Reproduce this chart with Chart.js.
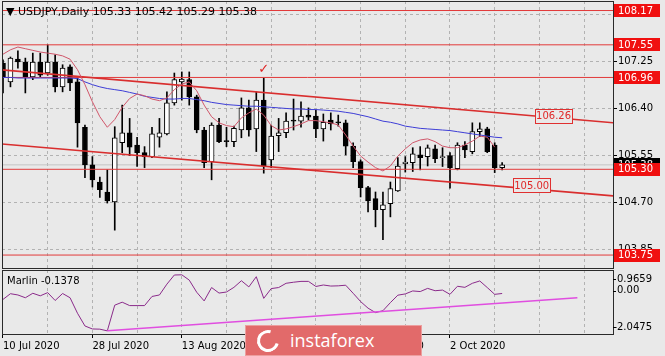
<!DOCTYPE html>
<html>
<head>
<meta charset="utf-8">
<script src="https://cdn.jsdelivr.net/npm/chart.js@4.4.1/dist/chart.umd.min.js"></script>
<style>
html,body{margin:0;padding:0;background:#e9e9e9;}
#wrap{position:relative;width:665px;height:356px;overflow:hidden;background:#e9e9e9;font-family:'DejaVu Sans',sans-serif;}
#c1{position:absolute;left:0;top:0;}
#c2{position:absolute;left:0;top:269px;}
#title{position:absolute;left:6px;top:5px;font-size:11px;line-height:13px;white-space:pre;color:#000;}
#mlabel{position:absolute;left:7px;top:275px;font-size:10px;line-height:12px;white-space:pre;color:#000;}
#logo{position:absolute;left:245px;top:325px;width:177px;height:31px;background:#e26a6a;border:1px solid rgba(255,255,255,0.35);box-sizing:border-box;}
#ring{position:absolute;left:11px;top:4px;width:16px;height:16px;border:3px solid #fff;border-radius:50%;border-right-color:transparent;transform:rotate(-30deg);}
#logo span{position:absolute;left:44px;top:2px;font-family:'Open Sans',sans-serif;font-size:18px;line-height:24px;color:#fff;}
</style>
</head>
<body>
<div id="wrap">
<canvas id="c1" width="665" height="269"></canvas>
<canvas id="c2" width="665" height="87"></canvas>
<div id="title">▼ USDJPY,Daily 105.33 105.42 105.29 105.38</div>
<div id="mlabel">Marlin -0.1378</div>
<div id="logo"><div id="ring"></div><span>instaforex</span></div>
</div>
<script>
// ---------- DATA ----------
const dates = ["10 Jul 2020","13 Jul 2020","14 Jul 2020","15 Jul 2020","16 Jul 2020","17 Jul 2020","20 Jul 2020","21 Jul 2020","22 Jul 2020","23 Jul 2020",
"24 Jul 2020","27 Jul 2020","28 Jul 2020","29 Jul 2020","30 Jul 2020","31 Jul 2020","3 Aug 2020","4 Aug 2020","5 Aug 2020","6 Aug 2020",
"7 Aug 2020","10 Aug 2020","11 Aug 2020","12 Aug 2020","13 Aug 2020","14 Aug 2020","17 Aug 2020","18 Aug 2020","19 Aug 2020","20 Aug 2020",
"21 Aug 2020","24 Aug 2020","25 Aug 2020","26 Aug 2020","27 Aug 2020","28 Aug 2020","31 Aug 2020","1 Sep 2020","2 Sep 2020","3 Sep 2020",
"4 Sep 2020","7 Sep 2020","8 Sep 2020","9 Sep 2020","10 Sep 2020","11 Sep 2020","14 Sep 2020","15 Sep 2020","16 Sep 2020","17 Sep 2020",
"18 Sep 2020","21 Sep 2020","22 Sep 2020","23 Sep 2020","24 Sep 2020","25 Sep 2020","28 Sep 2020","29 Sep 2020","30 Sep 2020","1 Oct 2020",
"2 Oct 2020","5 Oct 2020","6 Oct 2020","7 Oct 2020","8 Oct 2020","9 Oct 2020","12 Oct 2020","13 Oct 2020"];

const opens = [107.22,106.88,107.29,107.24,106.97,107.24,107.04,107.24,106.79,107.15,
106.88,106.06,105.38,105.07,104.89,104.71,105.78,105.96,105.74,105.60,
105.53,105.88,105.94,106.50,106.88,106.92,106.61,106.01,105.44,106.10,
105.82,105.80,106.01,106.41,106.03,106.55,105.47,105.91,105.96,106.19,
106.17,106.28,106.26,106.03,106.19,106.15,106.14,105.72,105.44,104.97,
104.77,104.57,104.68,104.91,105.40,105.42,105.56,105.53,105.67,105.51,
105.55,105.31,105.74,105.62,105.98,106.03,105.74,105.33];
const highs = [107.28,107.33,107.44,107.31,107.40,107.40,107.55,107.37,107.19,107.19,
106.95,106.10,105.53,105.16,105.29,106.07,106.46,106.22,105.88,105.71,
106.06,106.22,106.70,107.04,107.06,107.06,106.64,106.06,106.14,106.22,
106.06,106.08,106.59,106.55,106.70,106.95,106.10,106.22,106.32,106.57,
106.52,106.41,106.37,106.30,106.32,106.28,106.19,105.78,105.47,104.99,
104.89,104.89,105.07,105.51,105.53,105.69,105.71,105.74,105.74,105.69,
105.60,105.78,105.80,106.14,106.14,106.06,105.78,105.42];
const lows = [106.68,106.79,107.13,106.68,106.92,106.97,107.00,106.70,106.70,106.72,
105.70,105.15,104.98,104.79,104.69,104.20,105.60,105.55,105.35,105.33,
105.51,105.70,105.92,106.46,106.55,106.46,105.96,105.33,105.11,105.78,
105.71,105.71,105.87,105.90,105.62,105.23,105.33,105.62,105.87,106.01,
106.06,106.19,105.87,105.81,106.01,106.08,105.56,105.33,104.80,104.53,
104.26,104.03,104.44,104.90,105.25,105.26,105.29,105.36,105.42,105.35,
104.96,105.29,105.51,105.58,105.89,105.60,105.24,105.29];
const closes = [106.97,107.31,107.24,106.97,107.24,107.00,107.24,106.79,107.13,106.86,
106.14,105.38,105.11,104.93,104.73,105.87,105.96,105.70,105.60,105.53,
105.94,105.96,106.50,106.92,106.93,106.61,106.01,105.42,106.10,105.80,
105.80,106.04,106.41,106.01,106.55,105.36,105.90,105.96,106.17,106.17,
106.26,106.24,106.03,106.15,106.12,106.14,105.72,105.44,104.97,104.73,
104.57,104.66,104.95,105.36,105.43,105.58,105.51,105.69,105.49,105.53,
105.33,105.74,105.65,105.98,106.03,105.62,105.33,105.38];

const maSlow = [106.96,106.96,106.95,106.95,106.95,106.95,106.95,106.95,106.95,106.95,
106.94,106.88,106.83,106.79,106.76,106.74,106.72,106.69,106.66,106.62,
106.60,106.58,106.57,106.57,106.58,106.58,106.56,106.54,106.51,106.49,
106.47,106.46,106.45,106.44,106.44,106.43,106.42,106.41,106.40,106.39,
106.39,106.38,106.38,106.37,106.36,106.35,106.33,106.31,106.28,106.25,
106.21,106.17,106.15,106.12,106.08,106.06,106.04,106.03,106.02,106.01,
106.00,105.98,105.96,105.94,105.92,105.90,105.88,105.87];
const maFast = [107.38,107.46,107.51,107.48,107.45,107.42,107.40,107.38,107.35,107.29,
107.10,106.83,106.52,106.25,106.06,106.20,106.42,106.58,106.66,106.63,
106.57,106.54,106.59,106.74,106.84,106.88,106.72,106.46,106.25,106.14,
106.09,106.07,106.23,106.32,106.39,106.28,106.09,106.01,106.03,106.07,
106.12,106.18,106.18,106.16,106.14,106.10,105.92,105.72,105.54,105.43,
105.33,105.27,105.36,105.54,105.67,105.78,105.83,105.85,105.80,105.72,
105.69,105.69,105.74,105.81,105.90,105.88,105.70,null];
const marlin = [-0.42,-0.15,-0.21,-0.34,-0.13,-0.25,-0.10,-0.47,-0.14,-0.34,
-1.07,-1.67,-1.81,-1.82,-1.90,-0.69,-0.55,-0.71,-0.71,-0.71,
-0.28,-0.21,0.30,0.73,0.74,0.49,-0.08,-0.49,0.14,-0.12,
-0.07,0.15,0.46,0.17,0.65,-0.37,0.09,0.14,0.34,0.39,
0.43,0.43,0.19,0.26,0.21,0.22,0.25,-0.13,-0.52,-0.83,
-1.04,-0.95,-0.57,-0.22,-0.16,-0.02,-0.05,0.10,-0.01,0.02,
-0.18,0.20,0.15,0.34,0.45,0.14,-0.18,-0.14];

const levels = [108.17, 107.55, 106.96, 105.30, 103.75];
const lastPrice = 105.38;
const priceTicks = [103.85, 104.70, 105.55, 106.40, 107.25, 108.10];
const upperTrend = [[-0.40, 107.10], [81.9, 106.14]];
const lowerTrend = [[-0.40, 105.76], [81.9, 104.82]];
const trendTags = [[73.9, 106.26], [70.96, 105.00]];
const checkMark = [35, 107.10];
const marlinTrend = [[14, -1.90], [77.1, -0.34]];
const marlinLevels = [0.9659, 0.00, -2.0475];
const xGridTicks = [0,6,12,18,24,30,36,42,48,54,60,66,72,78];
const xLabelTicks = [0,12,24,36,48,60];

// ---------- SCALE RANGES ----------
const X_MIN = -0.134, X_MAX = 81.88;
const Y_MIN = 103.516, Y_MAX = 108.342;
const M_MIN = -2.0475, M_MAX = 0.9659;

const FONT = 'DejaVu Sans';
const GRID = '#b2b2b2';
const LEVEL_RED = '#e23a3a';
const TREND_RED = '#d92e2e';

const idx = dates.map((_, i) => i);
const pts = arr => arr.map((v, i) => ({x: i, y: v}));
const seg = p => p.map(([x, y]) => ({x, y}));
const noPad = s => { s.paddingTop = 0; s.paddingBottom = 0; s.paddingLeft = 0; s.paddingRight = 0; };

const datasets1 = [];
datasets1.push({type:'line', data: seg([[X_MIN, lastPrice],[X_MAX, lastPrice]]), borderColor:'#c4c4c4', borderWidth:1, pointRadius:0, order:30});
datasets1.push({type:'bar', data: idx.map(i => ({x:i, y:[lows[i], highs[i]]})), backgroundColor:'#000', borderWidth:0, barThickness:1, grouped:false, order:21});
datasets1.push({type:'bar', data: idx.map(i => ({x:i, y:[opens[i], closes[i]]})),
  backgroundColor: idx.map(i => closes[i] >= opens[i] ? '#ffffff' : '#000000'),
  borderColor:'#000', borderWidth:1, borderSkipped:false, barThickness:5, minBarLength:1, grouped:false, order:20});
levels.forEach(L => datasets1.push({type:'line', data: seg([[X_MIN, L],[X_MAX, L]]), borderColor:LEVEL_RED, borderWidth:1, pointRadius:0, order:6}));
[upperTrend, lowerTrend].forEach(t => datasets1.push({type:'line', data: seg(t), borderColor:TREND_RED, borderWidth:1.6, pointRadius:0, order:5}));
datasets1.push({type:'line', data: pts(maSlow), borderColor:'#3d3dd6', borderWidth:1, pointRadius:0, tension:0, order:4});
datasets1.push({type:'line', data: pts(maFast), borderColor:'#d0566a', borderWidth:1, pointRadius:0, tension:0, spanGaps:false, order:3});

function box(ctx, x, yc, w, h, fill, stroke) {
  ctx.fillStyle = fill;
  ctx.fillRect(x, Math.round(yc - h/2), w, h);
  if (stroke) { ctx.strokeStyle = stroke; ctx.lineWidth = 1; ctx.strokeRect(x + 0.5, Math.round(yc - h/2) + 0.5, w - 1, h - 1); }
}

const panel1 = {
  id: 'panel1',
  afterDraw(chart) {
    const {ctx, chartArea: ca, scales} = chart;
    const xs = scales.x, ys = scales.y;
    ctx.save();
    ctx.strokeStyle = '#2a2a2a'; ctx.lineWidth = 1;
    ctx.strokeRect(ca.left + 0.5, ca.top + 0.5, ca.right - ca.left, ca.bottom - ca.top);
    ctx.font = '10px ' + FONT;
    ctx.textBaseline = 'middle';
    trendTags.forEach(([xi, v]) => {
      const cx = xs.getPixelForValue(xi), cy = ys.getPixelForValue(v);
      const txt = v.toFixed(2);
      const w = Math.ceil(ctx.measureText(txt).width) + 3;
      box(ctx, Math.round(cx - w/2), cy, w, 15, '#e9e9e9', '#e03030');
      ctx.fillStyle = '#e02828'; ctx.textAlign = 'center';
      ctx.fillText(txt, cx, cy + 0.5);
    });
    ctx.fillStyle = '#e02020'; ctx.textAlign = 'center';
    ctx.font = 'bold 13px ' + FONT;
    ctx.fillText('\u2713', xs.getPixelForValue(checkMark[0]), ys.getPixelForValue(checkMark[1]));
    ctx.font = '10px ' + FONT; ctx.textAlign = 'left';
    const bx = ca.right + 1, bw = 46;
    let cy = ys.getPixelForValue(lastPrice);
    box(ctx, bx, cy, bw, 13, '#000');
    ctx.fillStyle = '#fff'; ctx.fillText(lastPrice.toFixed(2), bx + 4, cy + 0.5);
    levels.forEach(L => {
      const y = ys.getPixelForValue(L);
      box(ctx, bx, y, bw, 13, '#f01010');
      ctx.fillStyle = '#fff'; ctx.fillText(L.toFixed(2), bx + 4, y + 0.5);
    });
    ctx.restore();
  }
};

new Chart(document.getElementById('c1'), {
  type: 'bar',
  data: {datasets: datasets1},
  options: {
    responsive:false, animation:false, devicePixelRatio:1,
    layout: {padding: {left:2, top:1, right:0, bottom:1}},
    plugins: {legend:{display:false}, tooltip:{enabled:false}},
    scales: {
      x: {type:'linear', min:X_MIN, max:X_MAX, offset:false,
          grid:{offset:false, color:GRID, lineWidth:1, drawTicks:false},
          border:{display:false, dash:[3,3]},
          ticks:{display:false},
          afterBuildTicks: s => { s.ticks = xGridTicks.map(v => ({value:v})); },
          afterFit: s => { s.height = 0; noPad(s); }},
      y: {type:'linear', position:'right', min:Y_MIN, max:Y_MAX,
          grid:{color:GRID, lineWidth:1, drawTicks:true, tickLength:4, tickColor:'#000', tickWidth:1, tickBorderDash:[]},
          border:{display:false, dash:[3,3]},
          ticks:{color:'#000', font:{family:FONT, size:10}, padding:1, autoSkip:false, callback: v => Number(v).toFixed(2)},
          afterBuildTicks: s => { s.ticks = priceTicks.map(v => ({value:v})); },
          afterFit: s => { s.width = 52; noPad(s); }}
    }
  },
  plugins: [panel1]
});

const panel2 = {
  id: 'panel2',
  afterDraw(chart) {
    const {ctx, chartArea: ca, scales} = chart;
    const ys = scales.y;
    ctx.save();
    ctx.strokeStyle = '#2a2a2a'; ctx.lineWidth = 1;
    ctx.strokeRect(ca.left + 0.5, ca.top + 0.5, ca.right - ca.left, ca.bottom - ca.top);
    ctx.font = '10px ' + FONT; ctx.textBaseline = 'middle'; ctx.textAlign = 'left';
    ctx.fillStyle = '#000'; ctx.strokeStyle = '#000';
    marlinLevels.forEach(v => {
      let y = ys.getPixelForValue(v);
      y = Math.min(Math.max(y, ca.top + 9), ca.bottom - 7);
      ctx.beginPath(); ctx.moveTo(ca.right, Math.round(y) + 0.5); ctx.lineTo(ca.right + 3, Math.round(y) + 0.5); ctx.stroke();
      const t = v === 0 ? '0.00' : String(v);
      const off = v < 0 ? ctx.measureText('-').width : 0;
      ctx.fillText(t, ca.right + 3 - off + 1, y);
    });
    ctx.restore();
  }
};

new Chart(document.getElementById('c2'), {
  type: 'line',
  data: {datasets: [
    {data: pts(marlin), borderColor:'#8a2a8a', borderWidth:1, pointRadius:0, tension:0, order:2},
    {data: seg(marlinTrend), borderColor:'#e04ee0', borderWidth:1.5, pointRadius:0, order:1}
  ]},
  options: {
    responsive:false, animation:false, devicePixelRatio:1,
    layout: {padding: {left:2, top:1, right:0, bottom:0}},
    plugins: {legend:{display:false}, tooltip:{enabled:false}},
    scales: {
      x: {type:'linear', min:X_MIN, max:X_MAX, offset:false,
          grid:{offset:false, color:GRID, lineWidth:1, drawTicks:true, tickLength:4, tickBorderDash:[],
                tickColor: c => (c.tick && xLabelTicks.includes(c.tick.value)) ? '#000' : 'rgba(0,0,0,0)'},
          border:{display:false, dash:[3,3]},
          ticks:{autoSkip:false, maxRotation:0, minRotation:0, align:'start', padding:2, color:'#000', font:{family:FONT, size:10},
                 callback: v => xLabelTicks.includes(v) ? dates[v] : ''},
          afterBuildTicks: s => { s.ticks = xGridTicks.map(v => ({value:v})); },
          afterFit: s => { s.height = 22; noPad(s); }},
      y: {type:'linear', position:'right', min:M_MIN, max:M_MAX,
          grid:{display:false}, border:{display:false}, ticks:{display:false},
          afterFit: s => { s.width = 52; noPad(s); }}
    }
  },
  plugins: [panel2]
});
</script>
</body>
</html>
